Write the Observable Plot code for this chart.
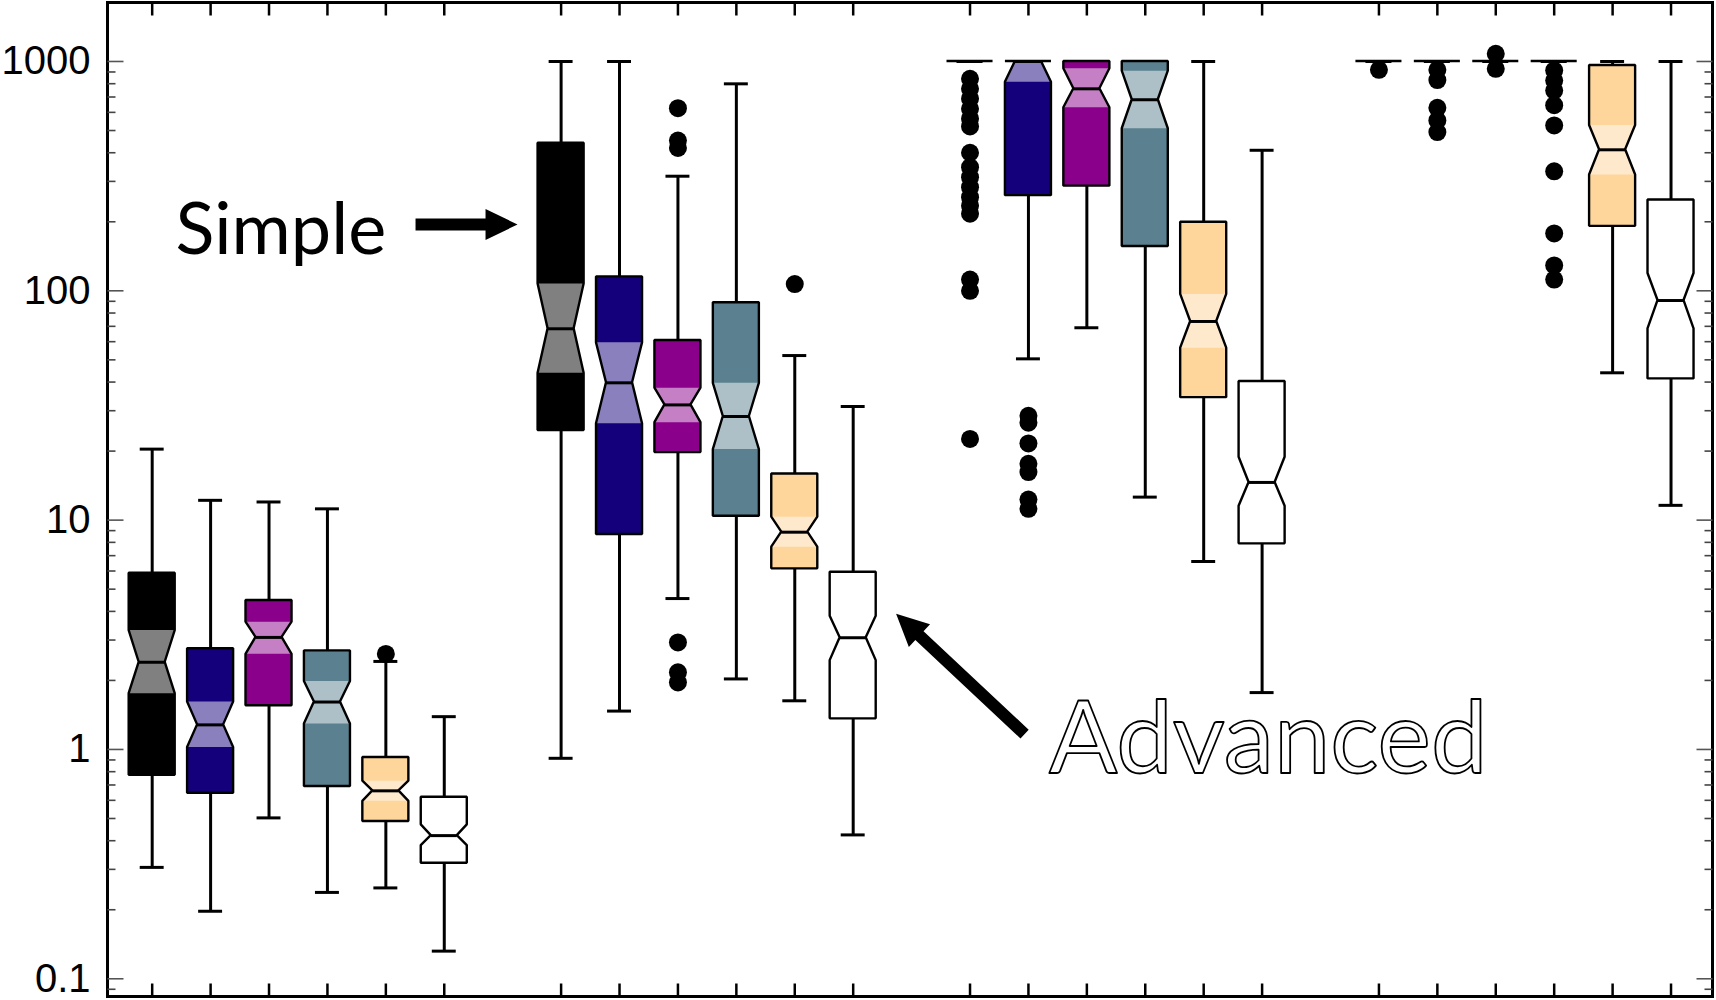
<!DOCTYPE html>
<html>
<head>
<meta charset="utf-8">
<script src="https://cdn.jsdelivr.net/npm/d3@7"></script>
<script src="https://cdn.jsdelivr.net/npm/@observablehq/plot@0.6"></script>
<style>
  html, body { margin: 0; padding: 0; background: #fff; }
  #chart svg { display: block; }
</style>
</head>
<body>
<div id="chart"></div>
<script>
// ---------------- data ----------------
const groups = ["Set 1", "Set 2", "Set 3", "Set 4"];
const methods = ["M1", "M2", "M3", "M4", "M5", "M6"];
const boxColors   = ["#000000", "#14007a", "#8b008b", "#5b808f", "#fed69b", "#ffffff"];
const notchColors = ["#808080", "#8a80bd", "#c580c5", "#adbfc7", "#ffe9cd", "#ffffff"];

// values listed group by group, six methods each
const lowerWhisker = [
  0.306, 0.197, 0.503, 0.238, 0.249, 0.132,
  0.915, 1.47, 4.55, 2.03, 1.63, 0.424,
  1000, 50.5, 69, 12.6, 6.6, 1.77,
  1000, 1000, 1000, 1000, 43.9, 11.6
];
const q1 = [
  0.772, 0.644, 1.55, 0.689, 0.485, 0.319,
  24.6, 8.65, 19.7, 10.4, 6.13, 1.36,
  1000, 260, 286, 156, 34.2, 7.88,
  1000, 1000, 1000, 1000, 191, 41.3
];
const notchLow = [
  1.75, 1.02, 2.60, 1.29, 0.594, 0.381,
  43.7, 26.3, 26.6, 20.3, 7.62, 2.44,
  1000, 812, 628, 509, 56.2, 11.5,
  1000, 1000, 1000, 1000, 320, 68.3
];
const median = [
  2.40, 1.28, 3.08, 1.61, 0.660, 0.421,
  68.3, 39.7, 31.8, 28.3, 8.86, 3.07,
  1000, 1000, 760, 681, 73.5, 14.6,
  1000, 1000, 1000, 1000, 412, 90.7
];
const notchHigh = [
  3.30, 1.61, 3.59, 1.98, 0.727, 0.469,
  107, 59.3, 37.6, 39.5, 10.3, 3.81,
  1000, 1000, 929, 907, 96.4, 18.8,
  1000, 1000, 1000, 1000, 526, 119
];
const q3 = [
  5.87, 2.75, 4.46, 2.69, 0.922, 0.619,
  440, 115, 60.7, 88.7, 15.9, 5.93,
  1000, 1000, 1000, 1000, 199, 40.2,
  1000, 1000, 1000, 1000, 961, 249
];
const upperWhisker = [
  20.4, 12.2, 12.0, 11.2, 2.42, 1.39,
  1000, 1000, 316, 799, 52.2, 31.3,
  1000, 1000, 1000, 1000, 1000, 410,
  1000, 1000, 1000, 1000, 1000, 1000
];
// outliers per box (same order)
const outliers = [
  [], [], [], [], [2.61], [],
  [], [], [626, 452, 420, 2.93, 2.17, 1.96], [], [107], [],
  [840, 760, 688, 622, 563, 521, 400, 346, 313, 283, 256, 235, 217, 112, 100, 22.6],
  [28.5, 26.6, 21.6, 17.6, 16.2, 12.3, 11.2], [], [], [], [],
  [920], [920, 830, 628, 553, 492], [1080, 929],
  [914, 826, 747, 645, 526, 332, 178, 129, 112], [], []
];

const yTickValues = [0.1, 1, 10, 100, 1000];
const yTickLabels = ["0.1", "1", "10", "100", "1000"];
const yMinorTicks = [0.09, 0.2, 0.3, 0.4, 0.5, 0.6, 0.7, 0.8, 0.9,
  2, 3, 4, 5, 6, 7, 8, 9, 20, 30, 40, 50, 60, 70, 80, 90,
  200, 300, 400, 500, 600, 700, 800, 900];

// annotations (data coordinates)
const annotationText = ["Simple", "Advanced"];
const annotationX = [0.40, 15.35];
const annotationY = [144, 0.787];
const arrowX = [4.508, 14.934];
const arrowY = [194.6, 1.167];
const arrowRotate = [90, -46.9];
const arrowLength = [102, 176];

// ---------------- geometry ----------------
const HALF = 0.394, NOTCH = 0.223, CAP = 0.205;
const boxes = [];
groups.forEach((g, gi) => methods.forEach((m, mi) => {
  const i = gi * methods.length + mi;
  boxes.push({
    i, pos: gi * (methods.length + 1) + mi,
    lo: lowerWhisker[i], q1: q1[i], nlo: notchLow[i], med: median[i],
    nhi: notchHigh[i], q3: q3[i], hi: upperWhisker[i],
    color: boxColors[mi], light: notchColors[mi]
  });
}));
const full = (b, y, fill) => ({id: b.i, y, x1: b.pos - HALF, x2: b.pos + HALF, fill});
const narrow = (b, y, fill) => ({id: b.i, y, x1: b.pos - NOTCH, x2: b.pos + NOTCH, fill});
const shapePts = boxes.flatMap(b => [
  full(b, b.q3, b.color), full(b, b.nhi, b.color), narrow(b, b.med, b.color),
  full(b, b.nlo, b.color), full(b, b.q1, b.color)
]);
const notchPts = boxes.flatMap(b => [
  full(b, b.nhi, b.light), narrow(b, b.med, b.light), full(b, b.nlo, b.light)
]);
const outlierPts = boxes.flatMap(b => outliers[b.i].map(v => ({x: b.pos, y: v})));
const annots = annotationText.map((t, i) => ({t, x: annotationX[i], y: annotationY[i]}));

const filledArrow = {
  draw(context, l) {
    const s = 6, h = 32, w = 15.5;
    context.moveTo(-s, 0);
    context.lineTo(-s, h - l);
    context.lineTo(-w, h - l);
    context.lineTo(0, -l);
    context.lineTo(w, h - l);
    context.lineTo(s, h - l);
    context.lineTo(s, 0);
    context.closePath();
  }
};
const tickLine = { draw(context, l) { context.moveTo(0, 0); context.lineTo(0, -l); } };

const arrowMarks = arrowX.map((x, i) =>
  Plot.vector([{x, y: arrowY[i]}], {x: "x", y: "y", rotate: arrowRotate[i], length: arrowLength[i],
    anchor: "start", shape: filledArrow, fill: "black", stroke: "none"})
);

const fontNum = "'Liberation Sans', Arial, sans-serif";
const fontAnn = "Lato, 'Open Sans', sans-serif";

const chart = Plot.plot({
  width: 1716,
  height: 1000,
  marginLeft: 107,
  marginRight: 4,
  marginTop: 2,
  marginBottom: 4,
  style: {background: "#fff", fontFamily: fontNum},
  x: {type: "linear", domain: [-0.765, 26.71], axis: null},
  y: {type: "log", domain: [0.0837, 1808], axis: null},
  color: {type: "identity"},
  marks: [
    // whiskers
    Plot.ruleX(boxes, {x: "pos", y1: "q3", y2: "hi", stroke: "black", strokeWidth: 3}),
    Plot.ruleX(boxes, {x: "pos", y1: "q1", y2: "lo", stroke: "black", strokeWidth: 3}),
    Plot.ruleY(boxes, {y: "hi", x1: d => d.pos - CAP, x2: d => d.pos + CAP, stroke: "black", strokeWidth: 3}),
    Plot.ruleY(boxes, {y: "lo", x1: d => d.pos - CAP, x2: d => d.pos + CAP, stroke: "black", strokeWidth: 3}),
    // boxes
    Plot.areaX(shapePts, {y: "y", x1: "x1", x2: "x2", z: "id", fill: "fill", curve: "linear"}),
    Plot.areaX(notchPts, {y: "y", x1: "x1", x2: "x2", z: "id", fill: "fill", curve: "linear"}),
    Plot.areaX(shapePts, {y: "y", x1: "x1", x2: "x2", z: "id", fill: "none", stroke: "black",
      strokeWidth: 2.4, strokeLinejoin: "miter", curve: "linear"}),
    Plot.ruleY(boxes, {y: "med", x1: d => d.pos - NOTCH, x2: d => d.pos + NOTCH, stroke: "black", strokeWidth: 3}),
    // outliers
    Plot.dot(outlierPts, {x: "x", y: "y", r: 9, fill: "black", stroke: "none"}),
    // frame & ticks
    Plot.frame({stroke: "black", strokeWidth: 3}),
    Plot.vector(yTickValues, {y: d => d, frameAnchor: "left", rotate: 90, length: 16, anchor: "start",
      shape: tickLine, stroke: "#555", strokeWidth: 1.6, strokeLinecap: "butt"}),
    Plot.vector(yMinorTicks, {y: d => d, frameAnchor: "left", rotate: 90, length: 8, anchor: "start",
      shape: tickLine, stroke: "#444", strokeWidth: 1.6, strokeLinecap: "butt"}),
    Plot.vector(yTickValues, {y: d => d, frameAnchor: "right", rotate: -90, length: 16, anchor: "start",
      shape: tickLine, stroke: "#555", strokeWidth: 1.6, strokeLinecap: "butt"}),
    Plot.vector(yMinorTicks, {y: d => d, frameAnchor: "right", rotate: -90, length: 8, anchor: "start",
      shape: tickLine, stroke: "#444", strokeWidth: 1.6, strokeLinecap: "butt"}),
    Plot.vector(boxes, {x: "pos", frameAnchor: "bottom", rotate: 0, length: 13, anchor: "start",
      shape: tickLine, stroke: "black", strokeWidth: 2.5, strokeLinecap: "butt"}),
    Plot.vector(boxes, {x: "pos", frameAnchor: "top", rotate: 180, length: 13, anchor: "start",
      shape: tickLine, stroke: "black", strokeWidth: 2.5, strokeLinecap: "butt"}),
    Plot.axisY(yTickValues, {anchor: "left", tickSize: 0, tickPadding: 17,
      tickFormat: d => yTickLabels[yTickValues.indexOf(d)], fontSize: 40, fontFamily: fontNum, fill: "black"}),
    // annotations
    ...arrowMarks,
    Plot.text(annots.slice(0, 1), {x: "x", y: "y", text: "t", textAnchor: "start", lineAnchor: "bottom",
      fontSize: 72, fontFamily: fontAnn, fill: "black"}),
    Plot.text(annots.slice(1), {x: "x", y: "y", text: "t", textAnchor: "start", lineAnchor: "bottom",
      fontSize: 101, fontFamily: fontAnn, fill: "white", stroke: "black", strokeWidth: 1.8, paintOrder: "normal"})
  ]
});
document.getElementById("chart").appendChild(chart);
</script>
</body>
</html>
